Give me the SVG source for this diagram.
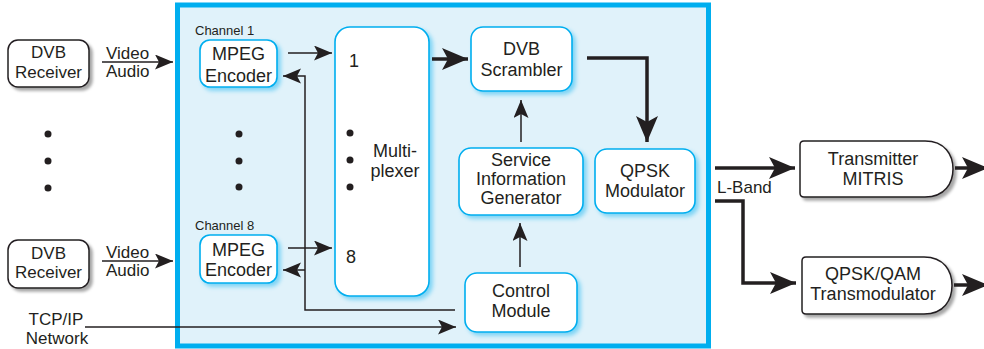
<svg xmlns="http://www.w3.org/2000/svg" width="984" height="349" viewBox="0 0 984 349">
<defs>
<filter id="gs" x="-20%" y="-20%" width="150%" height="150%"><feGaussianBlur in="SourceAlpha" stdDeviation="1.5"/><feOffset dx="2.5" dy="2.5" result="b"/><feFlood flood-color="#000" flood-opacity="0.35"/><feComposite in2="b" operator="in"/><feMerge><feMergeNode/><feMergeNode in="SourceGraphic"/></feMerge></filter>
<filter id="bs" x="-20%" y="-20%" width="150%" height="150%"><feGaussianBlur in="SourceAlpha" stdDeviation="2"/><feOffset dx="2.5" dy="2.5" result="b"/><feFlood flood-color="#00aeef" flood-opacity="0.45"/><feComposite in2="b" operator="in"/><feMerge><feMergeNode/><feMergeNode in="SourceGraphic"/></feMerge></filter>
<marker id="at" markerUnits="userSpaceOnUse" markerWidth="20" markerHeight="16" refX="18" refY="7.5" orient="auto"><path d="M0,0 L18,7.5 L0,15 L4,7.5 z" fill="#231f20"/></marker>
<marker id="ak" markerUnits="userSpaceOnUse" markerWidth="28" markerHeight="24" refX="26" refY="11" orient="auto"><path d="M0,0 L26,11 L0,22 L6,11 z" fill="#231f20"/></marker>
</defs>
<style>
text{font-family:"Liberation Sans",Arial,sans-serif;fill:#231f20;font-size:18px}
.m{text-anchor:middle}
.s{font-size:17px}
.c{font-size:13px}
.ext{fill:#fff;stroke:#231f20;stroke-width:1.5}
.int{fill:#fff;stroke:#00aeef;stroke-width:1.6}
.thin{fill:none;stroke:#231f20;stroke-width:1.5}
.thick{fill:none;stroke:#231f20;stroke-width:3.5}
.dot{fill:#231f20}
</style>
<rect id="frame" x="177.5" y="5" width="531" height="341" fill="#e0f2fa" stroke="#00aeef" stroke-width="5"/>

<g id="rx1"><rect class="ext" x="8" y="40" width="81" height="47" rx="10" filter="url(#gs)"/><text class="m s" x="48.5" y="57.5">DVB</text><text class="m s" x="48.5" y="77.5">Receiver</text></g>
<g id="rx8"><rect class="ext" x="8" y="240" width="81" height="48" rx="10" filter="url(#gs)"/><text class="m s" x="48.5" y="259">DVB</text><text class="m s" x="48.5" y="278">Receiver</text></g>

<g id="enc1"><text class="c" x="195" y="35">Channel 1</text><rect class="int" x="200" y="40" width="77" height="47" rx="10" filter="url(#bs)"/><text class="m" x="238.5" y="60">MPEG</text><text class="m" x="238.5" y="81.5">Encoder</text></g>
<g id="enc8"><text class="c" x="195" y="230">Channel 8</text><rect class="int" x="200" y="235" width="77" height="48" rx="10" filter="url(#bs)"/><text class="m" x="238.5" y="256">MPEG</text><text class="m" x="238.5" y="276">Encoder</text></g>

<g id="mux"><rect class="int" x="335" y="27" width="94" height="269" rx="15" filter="url(#bs)"/><text x="349" y="67">1</text><text x="346" y="263">8</text><circle class="dot" cx="350" cy="133" r="3.5"/><circle class="dot" cx="350" cy="160" r="3.5"/><circle class="dot" cx="350" cy="187" r="3.5"/><text class="m" x="395" y="157">Multi-</text><text class="m" x="395" y="177">plexer</text></g>

<g id="scr"><rect class="int" x="471" y="27" width="101" height="64" rx="12" filter="url(#bs)"/><text class="m" x="521.5" y="55">DVB</text><text class="m" x="521.5" y="76">Scrambler</text></g>
<g id="sig"><rect class="int" x="459" y="148" width="124" height="67" rx="12" filter="url(#bs)"/><text class="m" x="521" y="166">Service</text><text class="m" x="521" y="185">Information</text><text class="m" x="521" y="204">Generator</text></g>
<g id="qpsk"><rect class="int" x="595" y="149" width="100" height="64" rx="12" filter="url(#bs)"/><text class="m" x="645" y="177">QPSK</text><text class="m" x="645" y="197">Modulator</text></g>
<g id="ctl"><rect class="int" x="465" y="273" width="112" height="59" rx="12" filter="url(#bs)"/><text class="m" x="521" y="297">Control</text><text class="m" x="521" y="317">Module</text></g>

<g id="tx"><path class="ext" d="M804,141 H925 C945,141 953,155 953,169 C953,183 945,197 925,197 H804 Q800,197 800,193 V145 Q800,141 804,141 Z" filter="url(#gs)"/><text class="m" x="873" y="165">Transmitter</text><text class="m" x="873" y="185">MITRIS</text></g>
<g id="tm"><path class="ext" d="M806,257 H924 C944,257 952,271 952,285.5 C952,300 944,314 924,314 H806 Q802,314 802,310 V261 Q802,257 806,257 Z" filter="url(#gs)"/><text class="m" x="873" y="280">QPSK/QAM</text><text class="m" x="873" y="300">Transmodulator</text></g>

<g id="dots"><circle class="dot" cx="48" cy="134" r="3.5"/><circle class="dot" cx="48" cy="161" r="3.5"/><circle class="dot" cx="48" cy="188" r="3.5"/><circle class="dot" cx="239" cy="134" r="3.5"/><circle class="dot" cx="239" cy="161" r="3.5"/><circle class="dot" cx="239" cy="187" r="3.5"/></g>

<g id="labels"><text class="s" x="106" y="58.5">Video</text><text class="s" x="106" y="76.5">Audio</text><text class="s" x="106" y="258">Video</text><text class="s" x="106" y="276">Audio</text><text class="m s" x="56" y="325">TCP/IP</text><text class="m s" x="57" y="344">Network</text><text class="s" x="717" y="193">L-Band</text></g>

<g id="connectors">
<line class="thin" x1="102" y1="62" x2="173" y2="62" marker-end="url(#at)"/>
<line class="thin" x1="102" y1="261" x2="173" y2="261" marker-end="url(#at)"/>
<line class="thin" x1="288" y1="53" x2="332" y2="53" marker-end="url(#at)"/>
<line class="thin" x1="288" y1="248" x2="332" y2="248" marker-end="url(#at)"/>
<polyline class="thin" points="455,310 305,310 305,76 283,76" marker-end="url(#at)"/>
<line class="thin" x1="305" y1="270" x2="283" y2="270" marker-end="url(#at)"/>
<line class="thin" x1="85" y1="327" x2="456" y2="327" marker-end="url(#at)"/>
<line class="thin" x1="521" y1="142" x2="521" y2="100" marker-end="url(#at)"/>
<line class="thin" x1="520" y1="267" x2="520" y2="223" marker-end="url(#at)"/>
<line class="thick" x1="432" y1="59" x2="468" y2="59" marker-end="url(#ak)"/>
<polyline class="thick" points="587,58 647,58 647,142" marker-end="url(#ak)"/>
<line class="thick" x1="715" y1="168" x2="795" y2="168" marker-end="url(#ak)"/>
<polyline class="thick" points="715,201 743,201 743,283 796,283" marker-end="url(#ak)"/>
<line class="thick" x1="955" y1="168" x2="988" y2="168" marker-end="url(#ak)"/>
<line class="thick" x1="954" y1="285" x2="988" y2="285" marker-end="url(#ak)"/>
</g>
</svg>
